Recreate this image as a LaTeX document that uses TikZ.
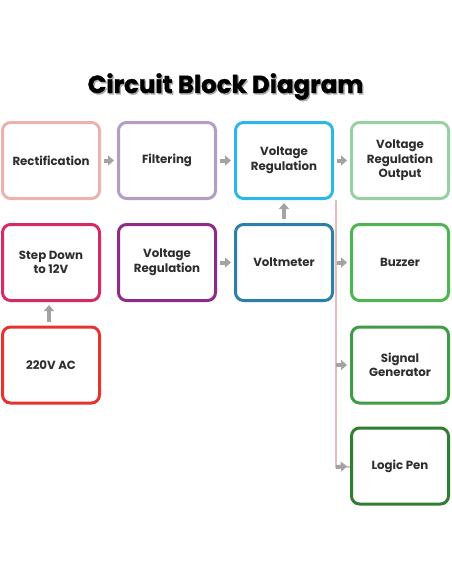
\documentclass[tikz,border=0pt]{standalone}
\usepackage{fontspec}
\setmainfont{Poppins}
\newfontfamily\titlefont{Poppins}[BoldFeatures={FakeBold=1.5}]
\usetikzlibrary{arrows.meta}
\definecolor{cRect}{HTML}{EBB2AE}
\definecolor{cFilt}{HTML}{B39CC6}
\definecolor{cVRa}{HTML}{2DB7E8}
\definecolor{cVRO}{HTML}{97D1A3}
\definecolor{cStep}{HTML}{D62A62}
\definecolor{cVRb}{HTML}{8F2A87}
\definecolor{cVolt}{HTML}{2B80A9}
\definecolor{cBuzz}{HTML}{4DB653}
\definecolor{cAC}{HTML}{E5332E}
\definecolor{cSig}{HTML}{3F9B47}
\definecolor{cLogic}{HTML}{2F7E33}
\definecolor{cBus}{HTML}{E6BDBD}
\definecolor{cArr}{HTML}{A3A3A3}
\begin{document}
\begin{tikzpicture}[x=1pt,y=-1pt,
  blk/.style={draw=#1, line width=3pt, rounded corners=8pt, fill=white,
    minimum width=97pt, minimum height=76pt, align=center,
    font=\bfseries\fontsize{11.8}{14.5}\selectfont, text=black!82},
  arr/.style={draw=cArr, line width=4pt, -{Triangle[length=6pt,width=10pt]}},
  bus/.style={draw=cBus, line width=1.5pt}]
\useasboundingbox (0,0) rectangle (452,584);
\node[text=black!35, font=\titlefont\bfseries\fontsize{24.5}{28}\selectfont] (titleshadow) at (226.8,88) {Circuit Block Diagram};
\node[text=black, font=\titlefont\bfseries\fontsize{24.5}{28}\selectfont] (title) at (225.5,86.5) {Circuit Block Diagram};
% row 1
\node[blk=cRect] (rect) at (51,160.5) {Rectification};
\node[blk=cFilt] (filt) at (167,160.5) {Filtering};
\node[blk=cVRa] (vra) at (284,160.5) {Voltage\\Regulation};
\node[blk=cVRO] (vro) at (400,160.5) {Voltage\\Regulation\\Output};
% row 2
\node[blk=cStep] (step) at (51,262.5) {Step Down\\to 12V};
\node[blk=cVRb] (vrb) at (167,262.5) {Voltage\\Regulation};
\node[blk=cVolt] (volt) at (284,262.5) {Voltmeter};
\node[blk=cBuzz] (buzz) at (400,262.5) {Buzzer};
% row 3/4
\node[blk=cAC] (ac) at (51,365) {220V AC};
\node[blk=cSig] (sig) at (400,365) {Signal\\Generator};
\node[blk=cLogic] (logic) at (400,466) {Logic Pen};
% bus
\coordinate (bustop) at (336,200);
\coordinate (busbot) at (336,467);
\draw[bus] (bustop) -- (busbot) -- (busbot -| logic.west);
% arrows
\draw[arr, shorten <=3pt, shorten >=3pt] (rect) -- (filt);
\draw[arr, shorten <=3pt, shorten >=3pt] (filt) -- (vra);
\draw[arr, shorten <=3pt, shorten >=3pt] (vra) -- (vro);
\draw[arr, shorten <=3pt, shorten >=3pt] (vrb) -- (volt);
\draw[arr, shorten <=3pt, shorten >=3pt] (volt) -- (buzz);
\draw[arr, shorten <=4pt, shorten >=3pt] (ac.north -| 49,0) -- (step.south -| 49,0);
\draw[arr, shorten <=4pt, shorten >=3pt] (volt) -- (vra);
\draw[arr, shorten >=3pt] (bustop |- sig) -- (sig.west);
\draw[arr, shorten >=3pt] (busbot) -- (logic.west);
\end{tikzpicture}
\end{document}
